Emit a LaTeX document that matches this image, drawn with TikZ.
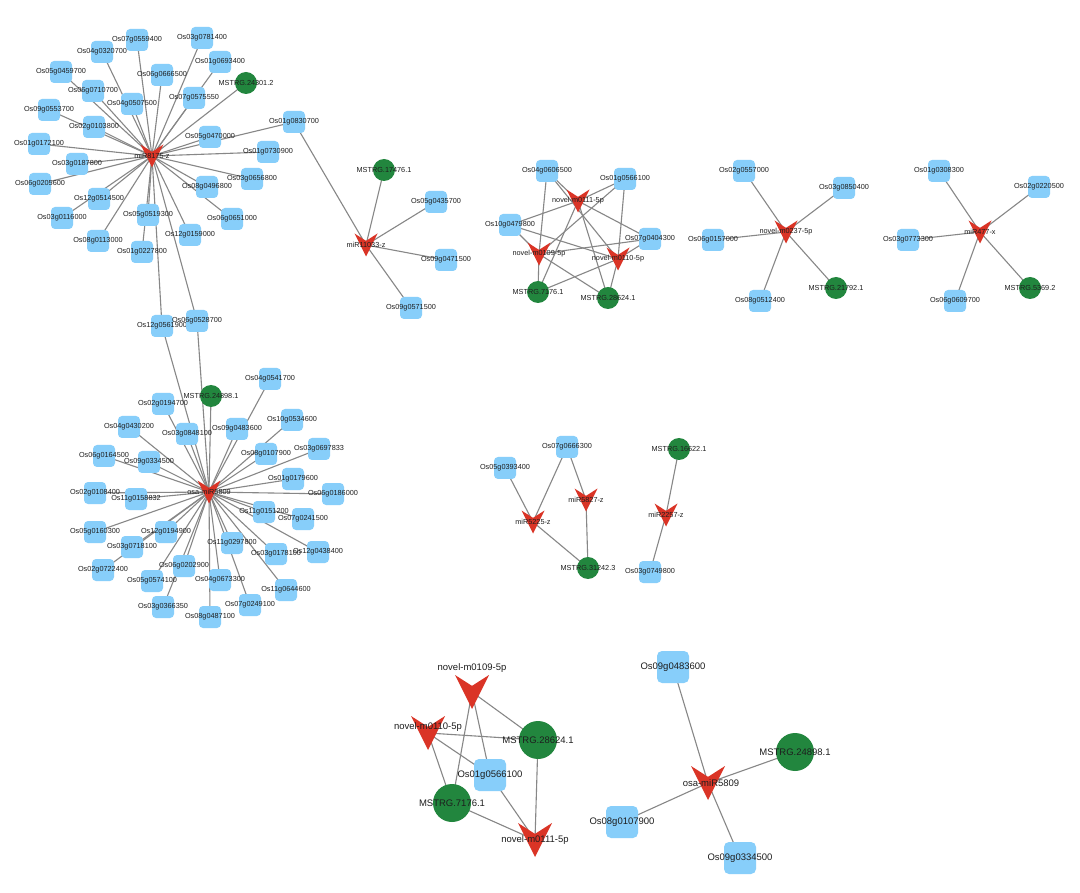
\documentclass[tikz,border=0pt]{standalone}
\usepackage{fontspec}
\setmainfont{Liberation Sans}
\usetikzlibrary{calc,backgrounds}
\definecolor{geneblue}{RGB}{135,206,250}
\definecolor{mirred}{RGB}{218,52,38}
\definecolor{lncgreen}{RGB}{34,134,62}
\definecolor{edgegray}{RGB}{135,135,135}
\definecolor{labcol}{RGB}{30,30,30}
\tikzset{
  lab/.style={font=\fontsize{7.3}{8}\selectfont, text=labcol, inner sep=0},
  biglab/.style={font=\fontsize{9.5}{11}\selectfont, text=labcol, inner sep=0},
  gene/.style={rectangle, rounded corners=4pt, fill=geneblue, minimum size=22pt, inner sep=0, label={[lab]center:#1}},
  lnc/.style={circle, fill=lncgreen, minimum size=22pt, inner sep=0, label={[lab]center:#1}},
  mirpic/.style={rectangle, inner sep=0, path picture={\fill[mirred] (path picture bounding box.north west) -- ($(path picture bounding box.north)!0.32!(path picture bounding box.south)$) -- (path picture bounding box.north east) -- (path picture bounding box.south) -- cycle;}},
  mir/.style={mirpic, minimum size=23pt, label={[lab]center:#1}},
  biggene/.style={rectangle, rounded corners=5pt, fill=geneblue, minimum size=32pt, inner sep=0, label={[biglab]center:#1}},
  biglnc/.style={circle, fill=lncgreen, minimum size=38pt, inner sep=0, label={[biglab]center:#1}},
  bigmir/.style={mirpic, minimum size=34pt},
  link/.style={draw=edgegray, line width=1.1pt},
}
\begin{document}
\begin{tikzpicture}[x={(1pt,0)}, y={(0,-1pt)}]
\useasboundingbox (0,0) rectangle (1080,893);
% ---------- cluster miR8175-z ----------
\node[mir=miR8175-z] (h1) at (152,156) {};
\node[gene=Os07g0559400] (a1) at (137,40) {};
\node[gene=Os03g0781400] (a2) at (202,38) {};
\node[gene=Os04g0320700] (a3) at (102,52) {};
\node[gene=Os01g0693400] (a4) at (220,62) {};
\node[gene=Os05g0459700] (a5) at (61,72) {};
\node[gene=Os06g0666500] (a6) at (162,75) {};
\node[lnc=MSTRG.24301.2] (a7) at (246,83) {};
\node[gene=Os06g0710700] (a8) at (93,91) {};
\node[gene=Os07g0575550] (a9) at (194,98) {};
\node[gene=Os04g0507500] (a10) at (132,104) {};
\node[gene=Os09g0553700] (a11) at (49,110) {};
\node[gene=Os01g0830700] (a12) at (294,122) {};
\node[gene=Os02g0103800] (a13) at (94,127) {};
\node[gene=Os05g0470000] (a14) at (210,137) {};
\node[gene=Os01g0172100] (a15) at (39,144) {};
\node[gene=Os01g0730900] (a16) at (268,152) {};
\node[gene=Os03g0187800] (a17) at (77,164) {};
\node[gene=Os03g0656800] (a18) at (252,179) {};
\node[gene=Os06g0205600] (a19) at (40,184) {};
\node[gene=Os08g0496800] (a20) at (207,187) {};
\node[gene=Os12g0514500] (a21) at (99,199) {};
\node[gene=Os05g0519300] (a22) at (148,215) {};
\node[gene=Os03g0116000] (a23) at (62,218) {};
\node[gene=Os06g0651000] (a24) at (232,219) {};
\node[gene=Os12g0159000] (a25) at (190,235) {};
\node[gene=Os08g0113000] (a26) at (98,241) {};
\node[gene=Os01g0227800] (a27) at (142,252) {};
\node[gene=Os12g0561900] (s1) at (162,326) {};
\node[gene=Os06g0528700] (s2) at (197,321) {};
% ---------- cluster osa-miR5809 ----------
\node[mir=osa-miR5809] (h2) at (209,492) {};
\node[gene=Os04g0541700] (b1) at (270,379) {};
\node[lnc=MSTRG.24898.1] (b2) at (211,396) {};
\node[gene=Os02g0194700] (b3) at (163,404) {};
\node[gene=Os10g0534600] (b4) at (292,420) {};
\node[gene=Os04g0430200] (b5) at (129,427) {};
\node[gene=Os09g0483600] (b6) at (237,429) {};
\node[gene=Os03g0848100] (b7) at (187,434) {};
\node[gene=Os03g0697833] (b8) at (319,449) {};
\node[gene=Os08g0107900] (b9) at (266,454) {};
\node[gene=Os06g0164500] (b10) at (104,456) {};
\node[gene=Os09g0334500] (b11) at (149,462) {};
\node[gene=Os01g0179600] (b12) at (293,479) {};
\node[gene=Os02g0108400] (b13) at (95,493) {};
\node[gene=Os06g0186000] (b14) at (333,494) {};
\node[gene=Os11g0158832] (b15) at (136,499) {};
\node[gene=Os11g0151200] (b16) at (264,512) {};
\node[gene=Os07g0241500] (b17) at (303,519) {};
\node[gene=Os05g0160300] (b18) at (95,532) {};
\node[gene=Os12g0194900] (b19) at (166,532) {};
\node[gene=Os11g0297800] (b20) at (232,543) {};
\node[gene=Os03g0718100] (b21) at (132,547) {};
\node[gene=Os12g0438400] (b22) at (318,552) {};
\node[gene=Os03g0178100] (b23) at (276,554) {};
\node[gene=Os06g0202900] (b24) at (184,566) {};
\node[gene=Os02g0722400] (b25) at (103,570) {};
\node[gene=Os04g0673300] (b26) at (220,580) {};
\node[gene=Os05g0574100] (b27) at (152,581) {};
\node[gene=Os11g0644600] (b28) at (286,590) {};
\node[gene=Os07g0249100] (b29) at (250,605) {};
\node[gene=Os03g0366350] (b30) at (163,607) {};
\node[gene=Os08g0487100] (b31) at (210,617) {};
% ---------- cluster miR11033-z ----------
\node[mir=miR11033-z] (h3) at (366,245) {};
\node[lnc=MSTRG.17476.1] (c1) at (384,170) {};
\node[gene=Os05g0435700] (c2) at (436,202) {};
\node[gene=Os09g0471500] (c3) at (446,260) {};
\node[gene=Os09g0571500] (c4) at (411,308) {};
% ---------- cluster novel-m0109/0110/0111 ----------
\node[mir=novel-m0111-5p] (n11) at (578,201) {};
\node[mir=novel-m0109-5p] (n09) at (539,254) {};
\node[mir=novel-m0110-5p] (n10) at (618,259) {};
\node[gene=Os04g0606500] (d1) at (547,171) {};
\node[gene=Os01g0566100] (d2) at (625,179) {};
\node[gene=Os10g0479800] (d3) at (510,225) {};
\node[gene=Os07g0404300] (d4) at (650,239) {};
\node[lnc=MSTRG.7176.1] (d5) at (538,292) {};
\node[lnc=MSTRG.28624.1] (d6) at (608,298) {};
% ---------- cluster novel-m0237-5p ----------
\node[mir=novel-m0237-5p] (h5) at (786,232) {};
\node[gene=Os02g0557000] (e1) at (744,171) {};
\node[gene=Os03g0850400] (e2) at (844,188) {};
\node[gene=Os06g0157000] (e3) at (713,240) {};
\node[gene=Os08g0512400] (e4) at (760,301) {};
\node[lnc=MSTRG.21792.1] (e5) at (836,288) {};
% ---------- cluster miR477-x ----------
\node[mir=miR477-x] (h6) at (980,232) {};
\node[gene=Os01g0308300] (f1) at (939,171) {};
\node[gene=Os02g0220500] (f2) at (1039,187) {};
\node[gene=Os03g0773300] (f3) at (908,240) {};
\node[gene=Os06g0609700] (f4) at (955,301) {};
\node[lnc=MSTRG.5369.2] (f5) at (1030,288) {};
% ---------- middle small clusters ----------
\node[lnc=MSTRG.16622.1] (g1) at (679,449) {};
\node[mir=miR2257-z] (h7) at (666,515) {};
\node[gene=Os03g0749800] (g2) at (650,572) {};
\node[gene=Os07g0666300] (g3) at (567,447) {};
\node[gene=Os05g0393400] (g4) at (505,468) {};
\node[mir=miR5827-z] (h8) at (586,500) {};
\node[mir=miR5225-z] (h9) at (533,522) {};
\node[lnc=MSTRG.31242.3] (g5) at (588,568) {};
% ---------- bottom left ----------
\node[bigmir, label={[biglab, yshift=24pt]center:novel-m0109-5p}] (k09) at (472,692) {};
\node[bigmir, label={[biglab, yshift=6pt]center:novel-m0110-5p}] (k10) at (428,733) {};
\node[biglnc=MSTRG.28624.1] (k6) at (538,740) {};
\node[biggene=Os01g0566100] (k2) at (490,775) {};
\node[biglnc=MSTRG.7176.1] (k5) at (452,803) {};
\node[bigmir, label={[biglab]center:novel-m0111-5p}] (k11) at (535,840) {};
% ---------- bottom right ----------
\node[bigmir, label={[biglab, xshift=3pt]center:osa-miR5809}] (r0) at (708,783) {};
\node[biggene=Os09g0483600] (r1) at (673,667) {};
\node[biglnc=MSTRG.24898.1] (r2) at (795,752) {};
\node[biggene=Os08g0107900] (r3) at (622,822) {};
\node[biggene=Os09g0334500] (r4) at (740,858) {};
% ---------- edges ----------
\begin{scope}[on background layer]
\fill[white] (0,0) rectangle (1080,893);
\foreach \t in {a1,a2,a3,a4,a5,a6,a7,a8,a9,a10,a11,a12,a13,a14,a15,a16,a17,a18,a19,a20,a21,a22,a23,a24,a25,a26,a27,s1,s2}
  \draw[link] (h1.center) -- (\t.center);
\foreach \t in {b1,b2,b3,b4,b5,b6,b7,b8,b9,b10,b11,b12,b13,b14,b15,b16,b17,b18,b19,b20,b21,b22,b23,b24,b25,b26,b27,b28,b29,b30,b31,s1,s2}
  \draw[link] (h2.center) -- (\t.center);
\foreach \t in {a12,c1,c2,c3,c4}
  \draw[link] (h3.center) -- (\t.center);
\foreach \m in {n09,n10,n11}
  \foreach \t in {d1,d2,d3,d4,d5,d6}
    \draw[link] (\m.center) -- (\t.center);
\foreach \t in {e1,e2,e3,e4,e5}
  \draw[link] (h5.center) -- (\t.center);
\foreach \t in {f1,f2,f3,f4,f5}
  \draw[link] (h6.center) -- (\t.center);
\draw[link] (h7.center) -- (g1.center);
\draw[link] (h7.center) -- (g2.center);
\draw[link] (h8.center) -- (g3.center);
\draw[link] (h9.center) -- (g3.center);
\draw[link] (h9.center) -- (g4.center);
\draw[link] (h8.center) -- (g5.center);
\draw[link] (h9.center) -- (g5.center);
\foreach \m in {k09,k10,k11}
  \foreach \t in {k2,k5,k6}
    \draw[link] (\m.center) -- (\t.center);
\foreach \t in {r1,r2,r3,r4}
  \draw[link] (r0.center) -- (\t.center);
\end{scope}
\end{tikzpicture}
\end{document}
